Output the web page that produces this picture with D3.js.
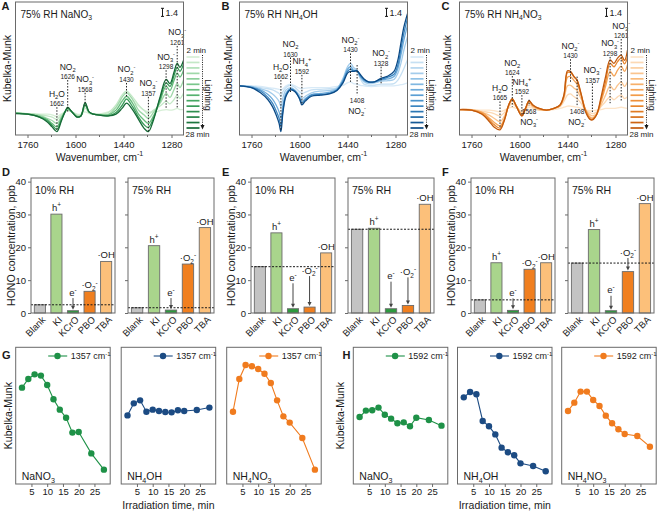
<!DOCTYPE html>
<html><head><meta charset="utf-8">
<script src="https://cdn.jsdelivr.net/npm/d3@7"></script>
<style>body{margin:0;background:#fff} text{font-family:Arial,"Liberation Sans",sans-serif}</style>
</head><body><svg id="c" width="660" height="513"></svg>
<script>
// ---------------- DATA ----------------
const wnDomain = [1800, 1240];
const kmDomain = [0, 23];
const curveTimes = [2, 4, 8, 14, 20, 28];
const legendTimes = [2, 4, 6, 8, 10, 12, 14, 16, 18, 20, 22, 24, 26, 28];
const wnTicks = [1760, 1600, 1440, 1280];
const wnMinor = [1680, 1520, 1360];

const wnA = [1800,1760,1720,1695,1678,1662,1648,1635,1626,1612,1595,1582,1568,1555,1540,1515,1490,1465,1445,1430,1410,1390,1372,1357,1340,1318,1298,1285,1272,1261,1252,1240];
const kmA = [
 [3.9,3.7,3.6,3.6,3.5,3.2,3.6,4.0,4.2,4.0,3.6,3.6,4.0,3.7,3.6,3.7,4.0,4.8,6.1,6.3,5.9,5.0,4.3,4.0,4.0,4.2,4.4,4.3,4.4,4.6,4.4,4.4],
 [3.8,3.7,3.5,3.3,3.1,2.7,3.4,4.0,4.3,4.0,3.5,3.5,4.6,3.9,3.6,3.6,3.9,5.2,6.9,7.6,6.6,5.2,4.3,3.6,4.3,5.0,5.8,5.4,6.1,6.9,6.3,7.2],
 [3.8,3.7,3.4,2.9,2.5,2.0,3.1,4.0,4.4,4.0,3.3,3.4,5.0,3.9,3.6,3.5,3.6,4.8,6.5,7.3,6.2,4.3,3.5,2.9,3.9,5.5,7.2,6.5,7.8,8.9,8.2,9.5],
 [3.8,3.6,3.2,2.7,2.0,1.4,2.8,4.0,4.5,4.0,3.2,3.3,5.2,4.0,3.6,3.5,3.5,4.3,5.8,6.7,5.5,3.6,2.6,2.0,3.3,5.9,8.4,7.7,9.4,10.7,10.0,11.2],
 [3.8,3.6,3.1,2.5,1.7,1.0,2.5,4.0,4.7,4.0,3.1,3.3,5.5,4.0,3.6,3.4,3.3,3.9,5.1,6.2,4.9,3.1,1.8,1.3,2.9,6.3,9.0,8.4,10.2,11.7,11.0,12.3],
 [3.7,3.6,3.1,2.3,1.4,0.6,2.3,4.0,4.8,4.0,3.1,3.3,5.6,4.0,3.6,3.4,3.3,3.6,4.6,5.5,4.4,2.7,1.2,0.6,2.6,6.6,9.6,8.9,10.8,12.4,11.7,12.9]
];
const wnB = [1800,1760,1730,1705,1690,1678,1668,1662,1655,1645,1630,1615,1600,1592,1580,1560,1530,1500,1475,1455,1440,1430,1420,1408,1398,1385,1370,1350,1328,1305,1285,1272,1262,1252,1240];
const kmB = [
 [8.5,8.5,8.4,8.2,8.1,8.0,7.9,7.8,8.0,8.5,8.8,8.5,8.1,8.0,8.1,8.2,8.2,8.2,8.4,8.6,9.0,9.2,8.9,8.8,8.6,8.5,8.4,8.4,8.5,8.5,8.5,8.6,8.7,8.8,9.0],
 [8.5,8.4,8.2,8.0,7.8,7.5,7.2,6.7,7.5,8.2,8.6,8.2,7.5,7.2,7.4,7.8,7.9,8.0,8.2,9.5,11.2,11.8,11.4,11.0,9.8,8.8,8.6,8.6,8.8,8.8,8.9,9.5,10.4,11.5,13.0],
 [8.5,8.4,8.0,7.6,7.1,6.5,5.8,4.9,6.5,7.8,8.2,7.8,6.9,6.3,6.7,7.3,7.6,7.7,8.1,9.8,11.8,12.4,11.7,11.2,10.1,9.2,8.9,9.0,9.3,9.4,9.6,10.7,12.4,14.7,17.0],
 [8.5,8.3,7.8,7.0,6.2,5.2,4.0,2.9,5.2,7.2,8.0,7.6,6.5,5.8,6.3,7.0,7.2,7.4,7.9,9.5,11.4,11.8,11.2,11.1,10.1,9.4,9.1,9.2,9.5,9.7,10.1,11.5,13.8,16.4,19.0],
 [8.5,8.2,7.6,6.5,5.5,4.2,2.9,1.6,4.4,6.9,7.9,7.6,6.3,5.5,6.1,6.9,7.0,7.2,7.8,9.3,11.0,11.4,11.1,11.1,10.3,9.6,9.2,9.2,9.6,10.0,10.5,12.1,14.8,17.6,20.2],
 [8.5,8.2,7.3,6.1,4.9,3.5,2.0,0.6,4.0,6.7,7.8,7.5,6.3,5.2,5.9,6.7,6.9,7.1,7.7,9.0,10.7,11.0,11.0,11.1,10.5,9.7,9.2,9.2,9.8,10.2,11.0,13.0,15.9,18.7,21.0]
];
const wnC = [1800,1760,1725,1700,1685,1665,1650,1636,1624,1610,1592,1580,1568,1555,1535,1510,1485,1465,1452,1440,1430,1418,1408,1395,1380,1365,1357,1343,1328,1313,1298,1285,1273,1261,1250,1240];
const kmC = [
 [4.4,4.4,4.3,4.3,4.2,4.0,4.3,4.7,4.8,4.6,4.2,4.4,4.8,4.6,4.3,4.3,4.4,4.6,4.8,5.0,5.0,4.9,4.8,4.6,4.3,4.2,4.2,4.3,4.4,4.6,4.6,4.6,4.7,4.8,4.7,4.6],
 [4.4,4.4,4.1,3.9,3.7,3.3,3.9,4.9,5.4,4.8,3.9,4.4,5.2,4.7,4.3,4.3,4.6,4.9,5.8,6.9,7.1,6.6,6.3,5.5,4.3,3.9,3.7,4.0,4.9,5.8,6.6,6.1,6.6,6.9,6.3,6.6],
 [4.4,4.4,3.9,3.4,2.9,2.3,3.3,5.0,6.0,5.0,3.7,4.6,5.6,4.9,4.4,4.3,4.6,5.1,6.3,8.5,8.6,8.1,7.7,6.3,4.4,3.5,3.3,3.7,5.2,6.9,8.5,7.8,8.6,9.2,8.4,9.2],
 [4.4,4.3,3.9,2.9,2.2,1.6,2.9,5.1,6.2,5.0,3.5,4.6,5.8,5.0,4.5,4.3,4.6,5.1,6.6,10.0,10.1,9.4,8.8,6.9,4.4,3.1,2.9,3.6,5.8,8.4,11.0,10.2,11.2,11.9,11.0,12.1],
 [4.4,4.3,3.7,2.6,1.8,1.2,2.7,5.2,6.3,4.9,3.3,4.6,5.9,5.1,4.6,4.3,4.6,5.1,6.8,10.8,10.8,10.0,9.4,7.1,4.3,2.8,2.7,3.5,6.2,9.2,12.4,11.8,12.7,13.3,12.3,13.5],
 [4.4,4.3,3.6,2.3,1.4,0.9,2.6,5.2,6.2,4.9,3.3,4.6,5.9,5.2,4.6,4.3,4.6,5.2,6.9,11.1,11.0,10.1,9.5,7.2,4.0,2.7,2.6,3.5,6.6,10.1,13.0,12.4,13.3,13.8,12.9,14.7]
];
// band assignments (wavenumber, label, dashed-line span in KM units)
const annotA = [
 {wn:1662, chem:"H_2O", num:"1662", top:4.8, bot:0.7},
 {wn:1626, chem:"NO_2", num:"1626", top:9.5, bot:4.0},
 {wn:1568, chem:"NO_3^-", num:"1568", top:7.3, bot:5.0},
 {wn:1430, chem:"NO_2^-", num:"1430", top:9.0, bot:6.6},
 {wn:1357, chem:"NO_3^-", num:"1357", top:6.6, bot:0.5},
 {wn:1298, chem:"NO_3^-", num:"1298", top:11.2, bot:4.7},
 {wn:1261, chem:"NO_3^-", num:"1261", top:15.4, bot:4.7}
];
const annotB = [
 {wn:1662, chem:"H_2O", num:"1662", top:9.5, bot:0.9},
 {wn:1630, chem:"NO_2", num:"1630", top:13.4, bot:7.2},
 {wn:1592, chem:"NH_4^+", num:"1592", top:10.4, bot:5.2},
 {wn:1430, chem:"NO_2^-", num:"1430", top:14.1, bot:9.2},
 {wn:1408, chem:"NO_2^-", num:"1408", top:12.1, bot:6.9, below:true},
 {wn:1328, chem:"NO_2^-", num:"1328", top:11.8, bot:8.7}
];
const annotC = [
 {wn:1665, chem:"H_2O", num:"1665", top:5.8, bot:1.2},
 {wn:1624, chem:"NO_2", num:"1624", top:10.2, bot:4.9},
 {wn:1592, chem:"NH_4^+", num:"1592", top:6.9, bot:3.5},
 {wn:1568, chem:"NO_3^-", num:"1568", top:6.1, bot:5.0, below:true},
 {wn:1430, chem:"NO_2^-", num:"1430", top:13.1, bot:9.2},
 {wn:1408, chem:"NO_2^-", num:"1408", top:10.1, bot:5.0, below:true},
 {wn:1357, chem:"NO_3^-", num:"1357", top:8.9, bot:3.8},
 {wn:1298, chem:"NO_3^-", num:"1298", top:13.5, bot:5.5},
 {wn:1261, chem:"NO_3^-", num:"1261", top:16.6, bot:5.8}
];

// HONO scavenger experiments (ppb)
const cats = ["Blank", "KI", "KCrO", "PBO", "TBA"];
const species = ["", "h^+", "e^-", "·O_2^-", "·OH"];
const honoTicks = [0, 10, 20, 30, 40];
const honoD10 = [2.5, 30.1, 0.7, 6.6, 15.7];
const honoD75 = [1.6, 20.5, 0.9, 14.9, 26.0];
const honoE10 = [14.1, 24.4, 1.3, 1.8, 18.3];
const honoE75 = [25.5, 25.8, 1.3, 2.3, 33.1];
const honoF10 = [4.0, 15.3, 0.8, 13.3, 15.3];
const honoF75 = [15.2, 25.4, 0.7, 12.6, 33.3];
// level (ppb) of species label when it points to the bar with an arrow (0 = label sits on bar)
const arrowD10 = [0, 0, 5.3, 0, 0];
const arrowD75 = [0, 0, 5.3, 0, 0];
const arrowE10 = [0, 0, 9.8, 12.0, 0];
const arrowE75 = [0, 0, 10.3, 11.6, 0];
const arrowF10 = [0, 0, 5.2, 0, 0];
const arrowF75 = [0, 0, 6.0, 17.5, 0];

// band intensity vs irradiation time
const times = [2, 4, 6, 8, 10, 12, 14, 16, 18, 20, 24, 28];
const timeTicks = [5, 10, 15, 20, 25];
const kmG_NaNO3  = [70.5, 76.8, 80.2, 79.3, 72.4, 62.0, 54.4, 48.5, 37.6, 38.0, 22.4, 10.5];
const kmG_NH4OH  = [50.2, 59.0, 61.2, 52.9, 54.4, 53.4, 52.7, 52.4, 53.9, 53.4, 54.1, 55.9];
const kmG_NH4NO3 = [52.9, 76.8, 87.1, 86.1, 84.1, 80.7, 73.9, 61.2, 49.5, 44.9, 33.7, 10.5];
const kmH_NaNO3  = [49.0, 53.7, 53.9, 55.9, 50.7, 47.8, 44.4, 45.1, 42.2, 48.5, 46.8, 42.7];
const kmH_NH4OH  = [63.4, 67.3, 65.6, 46.1, 42.2, 36.3, 26.6, 23.2, 21.0, 15.1, 13.2, 9.3];
const kmH_NH4NO3 = [53.4, 59.5, 67.6, 67.6, 61.5, 57.1, 50.0, 44.4, 40.0, 36.6, 35.1, 27.3];

// ---------------- DRAWING ----------------
const svg = d3.select('#c');
const INK = '#1a1a1a', FRAME = '#6a6a6a';

function rich(sel, str, fs) {
  const parts = []; let i = 0, buf = '';
  while (i < str.length) {
    const c = str[i];
    if (c === '_' || c === '^') {
      if (buf) parts.push({m: 'n', t: buf}); buf = '';
      const m = c === '_' ? 'sub' : 'sup'; i++;
      let t = '';
      while (i < str.length && /[0-9+\-]/.test(str[i])) { t += str[i]; i++; }
      parts.push({m, t}); continue;
    }
    buf += c; i++;
  }
  if (buf) parts.push({m: 'n', t: buf});
  let off = 0;
  parts.forEach(p => {
    const ts = sel.append('tspan').text(p.t);
    const target = p.m === 'sub' ? fs * 0.28 : p.m === 'sup' ? -fs * 0.4 : 0;
    if (target !== off) ts.attr('dy', target - off);
    off = target;
    if (p.m !== 'n') ts.attr('font-size', fs * 0.68);
  });
}
function txt(parent, x, y, str, fs, anchor, opts) {
  opts = opts || {};
  const t = parent.append('text').attr('x', x).attr('y', y).attr('font-size', fs)
    .attr('text-anchor', anchor || 'start').attr('fill', opts.fill || INK);
  if (opts.weight) t.attr('font-weight', opts.weight);
  if (opts.transform) t.attr('transform', opts.transform);
  rich(t, str, fs);
  return t;
}
function styleAxis(a, fs) {
  a.attr('font-size', fs).attr('font-family', null);
  a.select('.domain').remove();
  a.selectAll('.tick line').attr('stroke', FRAME);
  a.selectAll('.tick text').attr('fill', INK);
}

function spectraPanel(cfg) {
  const {L, letter, letterX, title, wn, km, annots, ramp, ylabX} = cfg;
  const T = 2, B = 135, W = 168, R = L + W;
  const x = d3.scaleLinear().domain(wnDomain).range([L, R]);
  const y = d3.scaleLinear().domain(kmDomain).range([B, T]);
  const col = t => ramp((t - 2) / 26);
  const g = svg.append('g');
  const cid = 'clip' + letter;
  g.append('clipPath').attr('id', cid).append('rect').attr('x', L).attr('y', T).attr('width', W).attr('height', B - T);
  const line = d3.line().x((d, i) => x(wn[i])).y(d => y(d)).curve(d3.curveCatmullRom.alpha(0.5));
  g.append('g').attr('clip-path', `url(#${cid})`).selectAll('path').data(km).join('path')
    .attr('d', line).attr('fill', 'none').attr('stroke', (d, i) => col(curveTimes[i])).attr('stroke-width', 1.3);
  annots.forEach(a => {
    const xa = x(a.wn);
    g.append('line').attr('x1', xa).attr('x2', xa).attr('y1', y(a.top)).attr('y2', y(a.bot))
      .attr('stroke', '#222').attr('stroke-width', 1).attr('stroke-dasharray', '1.5,1.5');
    if (a.below) {
      txt(g, xa, y(a.bot) + 7.5, a.num, 6.5, 'middle');
      txt(g, xa, y(a.bot) + 18.5, a.chem, 8.5, 'middle');
    } else {
      txt(g, xa, y(a.top) - 1, a.num, 6.5, 'middle');
      txt(g, xa, y(a.top) - 10.5, a.chem, 8.5, 'middle');
    }
  });
  g.append('rect').attr('x', L).attr('y', T).attr('width', W).attr('height', B - T)
    .attr('fill', 'none').attr('stroke', FRAME).attr('stroke-width', 1);
  const ax = g.append('g').attr('transform', `translate(0,${B})`)
    .call(d3.axisBottom(x).tickValues(wnTicks).tickSize(3).tickPadding(3).tickFormat(d3.format('d')));
  styleAxis(ax, 9.5);
  g.selectAll('.minor').data(wnMinor).join('line').attr('x1', d => x(d)).attr('x2', d => x(d))
    .attr('y1', B).attr('y2', B + 2).attr('stroke', FRAME);
  txt(g, L + W / 2, 160.5, 'Wavenumber, cm^-1', 10.5, 'middle');
  txt(g, 0, 0, 'Kubelka-Munk', 10.5, 'middle', {transform: `translate(${ylabX},${(T + B) / 2}) rotate(-90)`}).attr('dy', '0.35em');
  txt(g, L + 5, 17.5, title, 10, 'start');
  txt(g, letterX, 9.5, letter, 11, 'start', {weight: 'bold'});
  // scale bar 1.4
  const bx = R - 21, by0 = 8.3, by1 = by0 + (y(0) - y(1.4));
  g.append('line').attr('x1', bx).attr('x2', bx).attr('y1', by0).attr('y2', by1).attr('stroke', INK);
  [by0, by1].forEach(v => g.append('line').attr('x1', bx - 1.5).attr('x2', bx + 1.5).attr('y1', v).attr('y2', v).attr('stroke', INK));
  txt(g, bx + 3, 15.5, '1.4', 9, 'start');
  // lighting legend
  const ly = d3.scalePoint().domain(legendTimes).range([57, 128]);
  g.selectAll('.leg').data(legendTimes).join('line')
    .attr('x1', R + 3).attr('x2', R + 16).attr('y1', d => ly(d)).attr('y2', d => ly(d))
    .attr('stroke', d => col(d)).attr('stroke-width', 1.7);
  txt(g, R + 3, 52.5, '2 min', 8, 'start');
  txt(g, R + 2, 136.5, '28 min', 8, 'start');
  g.append('line').attr('x1', R + 19).attr('x2', R + 19).attr('y1', 55).attr('y2', 125)
    .attr('stroke', INK).attr('stroke-width', 1).attr('stroke-dasharray', '1,1.3');
  g.append('path').attr('d', `M${R + 17},${125}L${R + 21},${125}L${R + 19},${129.5}Z`).attr('fill', INK);
  txt(g, 0, 0, 'Lighting', 9, 'middle', {transform: `translate(${R + 25},95) rotate(90)`}).attr('dy', '0.35em');
}

const barFill = ['#c3c3c3', '#a9d58c', '#2d9b3e', '#f07f1f', '#fcc07a'];
function barPanel(cfg) {
  const {ox, letter, sets} = cfg;
  const T = 178, B = 313;
  const y = d3.scaleLinear().domain([0, 41.1]).range([B, T]);
  const g = svg.append('g');
  txt(g, ox + 2, 175.7, letter, 11, 'start', {weight: 'bold'});
  txt(g, 0, 0, 'HONO concentration, ppb', 10.5, 'middle', {transform: `translate(${ox + 11.5},${(T + B) / 2}) rotate(-90)`}).attr('dy', '0.35em');
  sets.forEach((s, k) => {
    const x0 = ox + s.x0, x1 = ox + s.x1;
    const x = d3.scaleBand().domain(cats).range([x0, x1]).paddingInner(0.33).paddingOuter(0.2);
    g.selectAll(null).data(s.vals).join('rect')
      .attr('x', (d, i) => x(cats[i])).attr('width', x.bandwidth())
      .attr('y', d => y(d)).attr('height', d => y(0) - y(d))
      .attr('fill', (d, i) => barFill[i]).attr('stroke', '#6b6b6b').attr('stroke-width', 0.9);
    // blank reference line
    g.append('line').attr('x1', x0).attr('x2', x1).attr('y1', y(s.vals[0])).attr('y2', y(s.vals[0]))
      .attr('stroke', INK).attr('stroke-width', 1).attr('stroke-dasharray', '2,1.5');
    s.vals.forEach((v, i) => {
      if (!species[i]) return;
      const xc = x(cats[i]) + x.bandwidth() / 2;
      if (s.arrows[i]) {
        const ty = y(s.arrows[i]);
        txt(g, xc, ty, species[i], 9.5, 'middle');
        const a0 = ty + 2.5, a1 = y(v) - 1;
        g.append('line').attr('x1', xc).attr('x2', xc).attr('y1', a0).attr('y2', a1 - 3).attr('stroke', '#444').attr('stroke-width', 1);
        g.append('path').attr('d', `M${xc - 2},${a1 - 4}L${xc + 2},${a1 - 4}L${xc},${a1}Z`).attr('fill', '#444');
      } else {
        txt(g, xc, y(v) - 3, species[i], 9.5, 'middle');
      }
    });
    g.append('rect').attr('x', x0).attr('y', T).attr('width', x1 - x0).attr('height', B - T)
      .attr('fill', 'none').attr('stroke', FRAME).attr('stroke-width', 1);
    const ay = g.append('g').attr('transform', `translate(${x0},0)`)
      .call(d3.axisLeft(y).tickValues(honoTicks).tickSize(3).tickPadding(2).tickFormat(k === 0 ? d3.format('d') : () => ''));
    styleAxis(ay, 9.5);
    cats.forEach(c => {
      const xc = x(c) + x.bandwidth() / 2;
      txt(g, 0, 0, c, 9.5, 'end', {transform: `translate(${xc + 4},${B + 5}) rotate(-45)`}).attr('dy', '0.35em');
    });
    txt(g, x0 + 4, 194, s.title, 10.5, 'start');
  });
}

function kinPanel(cfg) {
  const {x0, step, letter, letterX, ylabX, band, series} = cfg;
  const T = 347.3, B = 484, W = 94.5;
  const y = d3.scaleLinear().domain([0, 100]).range([B, T]);
  const g = svg.append('g');
  txt(g, letterX, 359.3, letter, 11, 'start', {weight: 'bold'});
  txt(g, 0, 0, 'Kubelka-Munk', 10.5, 'middle', {transform: `translate(${ylabX},${(T + B) / 2}) rotate(-90)`}).attr('dy', '0.35em');
  series.forEach((s, k) => {
    const L = x0 + k * step, R = L + W;
    const x = d3.scaleLinear().domain([0, 30]).range([L, R]);
    g.append('path').datum(s.vals).attr('fill', 'none').attr('stroke', s.color).attr('stroke-width', 1.1)
      .attr('d', d3.line().x((d, i) => x(times[i])).y(d => y(d)));
    g.selectAll(null).data(s.vals).join('circle').attr('cx', (d, i) => x(times[i])).attr('cy', d => y(d))
      .attr('r', 3.2).attr('fill', s.color);
    g.append('rect').attr('x', L).attr('y', T).attr('width', W).attr('height', B - T)
      .attr('fill', 'none').attr('stroke', FRAME).attr('stroke-width', 1);
    const ax = g.append('g').attr('transform', `translate(0,${B})`)
      .call(d3.axisBottom(x).tickValues(timeTicks).tickSize(3).tickPadding(1));
    styleAxis(ax, 9.5);
    // legend
    g.append('line').attr('x1', R - 62).attr('x2', R - 43).attr('y1', 356).attr('y2', 356).attr('stroke', s.color).attr('stroke-width', 1.1);
    g.append('circle').attr('cx', R - 52.7).attr('cy', 356).attr('r', 3.2).attr('fill', s.color);
    txt(g, R - 39.5, 359.3, band + ' cm^-1', 9, 'start');
    txt(g, L + 6, 480, s.name, 10.5, 'start');
    if (k === 1) txt(g, L + W / 2, 509, 'Irradiation time, min', 10.5, 'middle');
  });
}

spectraPanel({L: 15.5, letter: 'A', letterX: 1.5, title: '75% RH NaNO_3', wn: wnA, km: kmA, annots: annotA, ylabX: 7.5,
  ramp: d3.interpolateRgbBasis(['#d6efd6', '#86cf94', '#34a058', '#166a37'])});
spectraPanel({L: 239.5, letter: 'B', letterX: 221.5, title: '75% RH NH_4OH', wn: wnB, km: kmB, annots: annotB, ylabX: 228.5,
  ramp: d3.interpolateRgbBasis(['#d8eaf7', '#8cc0e6', '#3a8ccb', '#0b4a86'])});
spectraPanel({L: 459.5, letter: 'C', letterX: 441.5, title: '75% RH NH_4NO_3', wn: wnC, km: kmC, annots: annotC, ylabX: 447.5,
  ramp: d3.interpolateRgbBasis(['#fde4c8', '#f9b673', '#f08a2a', '#c2590c'])});

barPanel({ox: 0, letter: 'D', sets: [
  {x0: 31, x1: 115, title: '10% RH', vals: honoD10, arrows: arrowD10},
  {x0: 128, x1: 214, title: '75% RH', vals: honoD75, arrows: arrowD75}]});
barPanel({ox: 220, letter: 'E', sets: [
  {x0: 31, x1: 115, title: '10% RH', vals: honoE10, arrows: arrowE10},
  {x0: 128, x1: 214, title: '75% RH', vals: honoE75, arrows: arrowE75}]});
barPanel({ox: 440, letter: 'F', sets: [
  {x0: 31, x1: 115, title: '10% RH', vals: honoF10, arrows: arrowF10},
  {x0: 128, x1: 214, title: '75% RH', vals: honoF75, arrows: arrowF75}]});

const cGreen = '#1e9147', cNavy = '#1c4b83', cOrange = '#f07b1e';
kinPanel({x0: 15.7, step: 105.5, letter: 'G', letterX: 2, ylabX: 8, band: '1357', series: [
  {name: 'NaNO_3', vals: kmG_NaNO3, color: cGreen},
  {name: 'NH_4OH', vals: kmG_NH4OH, color: cNavy},
  {name: 'NH_4NO_3', vals: kmG_NH4NO3, color: cOrange}]});
kinPanel({x0: 353.3, step: 104.2, letter: 'H', letterX: 342.5, ylabX: 340, band: '1592', series: [
  {name: 'NaNO_3', vals: kmH_NaNO3, color: cGreen},
  {name: 'NH_4OH', vals: kmH_NH4OH, color: cNavy},
  {name: 'NH_4NO_3', vals: kmH_NH4NO3, color: cOrange}]});
</script></body></html>
